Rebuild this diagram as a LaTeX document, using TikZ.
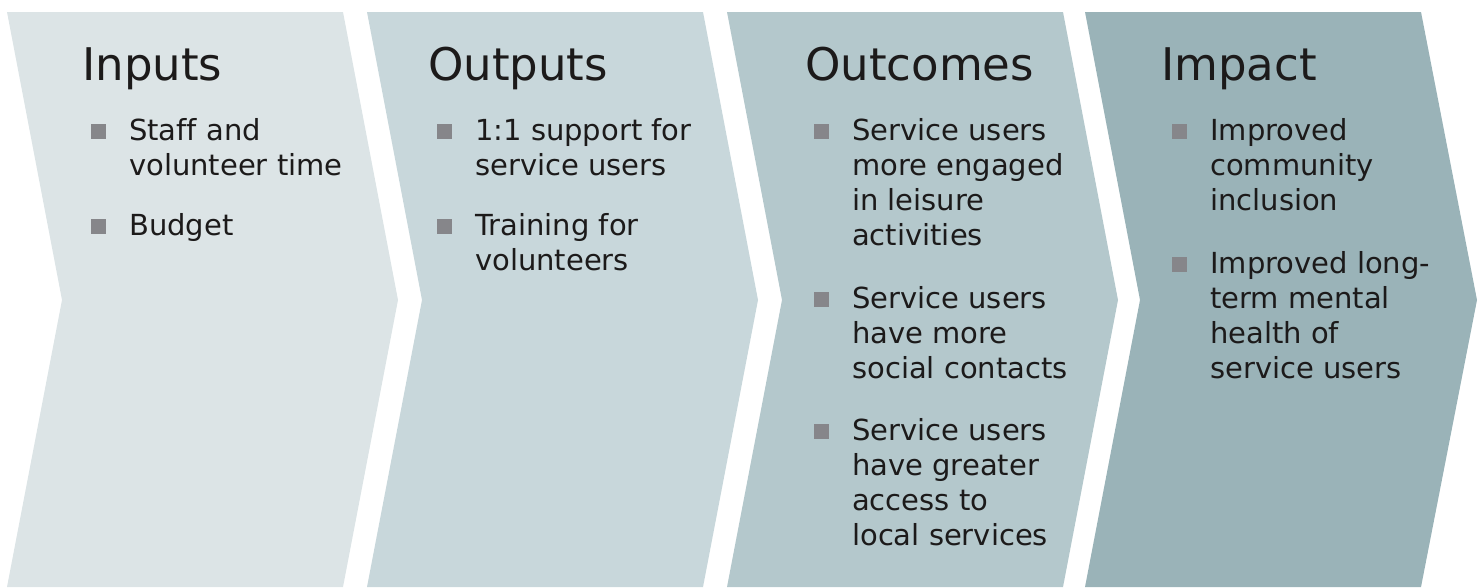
\documentclass[tikz,border=0pt]{standalone}
\usepackage{fontspec}
\setmainfont{DejaVu Sans}[Ligatures=NoCommon]
\usetikzlibrary{positioning}

\definecolor{chevA}{RGB}{220,228,230}
\definecolor{chevB}{RGB}{200,215,219}
\definecolor{chevC}{RGB}{180,200,204}
\definecolor{chevD}{RGB}{154,179,184}
\definecolor{ink}{RGB}{28,26,26}
\definecolor{bulletgrey}{RGB}{134,134,138}

\tikzset{
  head/.style={anchor=base west, inner sep=0pt, text=ink,
    font=\fontsize{45}{50}\selectfont},
  item/.style={anchor=base west, inner sep=0pt, align=left, text=ink,
    font=\fontsize{29}{35}\selectfont},
  sq/.style={fill=bulletgrey, inner sep=0pt, minimum size=15pt, anchor=south east},
}

\begin{document}
\begin{tikzpicture}[x=1pt,y=-1pt]

  \useasboundingbox (0,0) rectangle (1480,587);

  % Pfeile
  \fill[chevA] (7,12) -- (343,12) -- (398,300) -- (343,587) -- (7,587) -- (62,300) -- cycle;
  \fill[chevB] (367,12) -- (703,12) -- (758,300) -- (703,587) -- (367,587) -- (422,300) -- cycle;
  \fill[chevC] (727,12) -- (1063,12) -- (1118,300) -- (1063,587) -- (727,587) -- (782,300) -- cycle;
  \fill[chevD] (1085,12) -- (1421,12) -- (1477,300) -- (1421,587) -- (1085,587) -- (1140,300) -- cycle;

  % Inputs (Knoten an der Grundlinie der letzten Zeile)
  \node[head] (inputs) at (82,80) {Inputs};
  \node[item] (in1) at (129,175) {Staff and\\volunteer time};
  \node[item] (in2) at (129,235) {Budget};
  \node[sq] (in1b) at ([xshift=-23pt,yshift=36pt]in1.base west) {};
  \node[sq] (in2b) at ([xshift=-23pt,yshift=1pt]in2.base west) {};

  % Outputs
  \node[head] (outputs) at (428,80) {Outputs};
  \node[item] (out1) at (475,175) {1:1 support for\\service users};
  \node[item] (out2) at (475,270) {Training for\\volunteers};
  \node[sq] (out1b) at ([xshift=-23pt,yshift=36pt]out1.base west) {};
  \node[sq] (out2b) at ([xshift=-23pt,yshift=36pt]out2.base west) {};

  % Outcomes
  \node[head] (outcomes) at (805,80) {Outcomes};
  \node[item] (oc1) at (852,245) {Service users\\more engaged\\in leisure\\activities};
  \node[item] (oc2) at (852,378) {Service users\\have more\\social contacts};
  \node[item] (oc3) at (852,545) {Service users\\have greater\\access to\\local services};
  \node[sq] (oc1b) at ([xshift=-23pt,yshift=106pt]oc1.base west) {};
  \node[sq] (oc2b) at ([xshift=-23pt,yshift=71pt]oc2.base west) {};
  \node[sq] (oc3b) at ([xshift=-23pt,yshift=106pt]oc3.base west) {};

  % Impact
  \node[head] (impact) at (1161,80) {Impact};
  \node[item] (im1) at (1210,210) {Improved\\community\\inclusion};
  \node[item] (im2) at (1210,378) {Improved long-\\term mental\\health of\\service users};
  \node[sq] (im1b) at ([xshift=-23pt,yshift=71pt]im1.base west) {};
  \node[sq] (im2b) at ([xshift=-23pt,yshift=106pt]im2.base west) {};

\end{tikzpicture}
\end{document}
